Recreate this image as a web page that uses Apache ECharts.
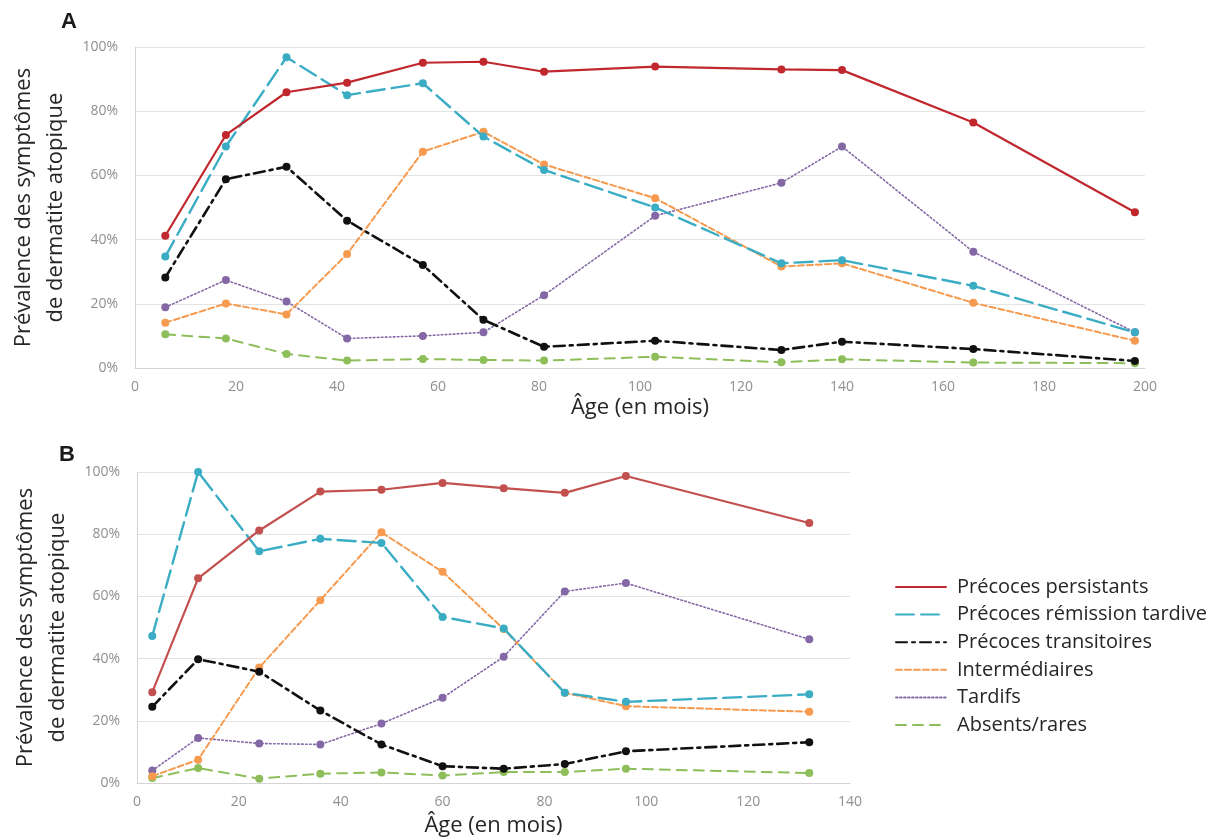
<!DOCTYPE html>
<html>
<head>
<meta charset="utf-8">
<script src="https://cdn.jsdelivr.net/npm/echarts@6/dist/echarts.min.js"></script>
<style>
  html, body { margin: 0; padding: 0; background: #ffffff; }
  #chart { width: 1216px; height: 839px; }
</style>
</head>
<body>
<div id="chart"></div>
<script>
// Trajectory groups (legend order)
const groupNames = ['Précoces persistants', 'Précoces rémission tardive', 'Précoces transitoires', 'Intermédiaires', 'Tardifs', 'Absents/rares'];

// Panel A — ages in months and prevalence (%)
const agesA = [6, 18, 30, 42, 57, 69, 81, 103, 128, 140, 166, 198];
const persistantsA    = [41.2, 72.6, 85.9, 88.9, 95.1, 95.4, 92.3, 93.9, 93.0, 92.8, 76.5, 48.5];
const remissionA      = [34.7, 69.0, 96.8, 85.0, 88.7, 72.1, 61.7, 50.0, 32.6, 33.6, 25.6, 11.1];
const transitoiresA   = [28.2, 58.8, 62.7, 45.9, 32.1, 15.0, 6.6, 8.5, 5.6, 8.2, 5.9, 2.2];
const intermediairesA = [14.1, 20.1, 16.7, 35.5, 67.4, 73.6, 63.4, 52.9, 31.6, 32.6, 20.3, 8.5];
const tardifsA        = [18.9, 27.4, 20.7, 9.2, 10.0, 11.1, 22.7, 47.4, 57.7, 69.0, 36.2, 11.1];
const absentsA        = [10.5, 9.2, 4.4, 2.3, 2.8, 2.5, 2.3, 3.5, 1.8, 2.7, 1.7, 1.5];

// Panel B — ages in months and prevalence (%)
const agesB = [3, 12, 24, 36, 48, 60, 72, 84, 96, 132];
const persistantsB    = [29.2, 65.8, 81.2, 93.7, 94.3, 96.5, 94.8, 93.3, 98.7, 83.6];
const remissionB      = [47.3, 100, 74.5, 78.5, 77.2, 53.4, 49.7, 29.0, 26.1, 28.5];
const transitoiresB   = [24.5, 39.8, 35.8, 23.3, 12.4, 5.4, 4.6, 6.1, 10.2, 13.1];
const intermediairesB = [2.2, 7.5, 37.1, 58.8, 80.6, 67.9, 49.5, 29.0, 24.7, 22.9];
const tardifsB        = [4.0, 14.5, 12.7, 12.4, 19.1, 27.4, 40.6, 61.6, 64.3, 46.2];
const absentsB        = [1.6, 4.8, 1.4, 3.0, 3.4, 2.4, 3.5, 3.5, 4.6, 3.2];

// Axis ranges
const xMaxA = 200;
const xMaxB = 140;
const xStep = 20;
const yMax = 100;
const yStep = 20;

// Line look for each group
const lineLooks = [
  { color: '#C0282E', width: 2.2, type: 'solid' },
  { color: '#3AADC4', width: 2.4, type: [18, 7] },
  { color: '#111111', width: 2.6, type: [11, 5, 3, 5] },
  { color: '#F59A4E', width: 2, type: [6, 3] },
  { color: '#8468A6', width: 1.6, type: [1.6, 2.4] },
  { color: '#8DBE5A', width: 2, type: [10, 7] }
];
const redB = '#C2504E';

const font = '"Open Sans", "Noto Sans", sans-serif';
const tickColor = '#8f8f8f';
const gridColor = '#e3e3e3';

const valuesA = [persistantsA, remissionA, transitoiresA, intermediairesA, tardifsA, absentsA];
const valuesB = [persistantsB, remissionB, transitoiresB, intermediairesB, tardifsB, absentsB];

function makeSeries(ages, values, axisIndex, panel) {
  return values.map((vals, k) => {
    const look = lineLooks[k];
    const color = (panel === 'B' && k === 0) ? redB : look.color;
    return {
      name: groupNames[k],
      type: 'line',
      xAxisIndex: axisIndex,
      yAxisIndex: axisIndex,
      data: ages.map((a, i) => [a, vals[i]]),
      symbol: 'circle',
      symbolSize: 8,
      z: 10 - k,
      lineStyle: { color: color, width: look.width, type: look.type, cap: 'round' },
      itemStyle: { color: color },
      emphasis: { disabled: true },
      animation: false
    };
  });
}

function xAxis(gridIndex, max, gap) {
  return {
    type: 'value', gridIndex: gridIndex, min: 0, max: max, interval: xStep,
    name: 'Âge (en mois)', nameLocation: 'middle', nameGap: gap,
    nameTextStyle: { fontFamily: font, fontSize: 22, color: '#262626', verticalAlign: 'top' },
    axisLine: { show: true, lineStyle: { color: '#d4d4d4', width: 1 } },
    axisTick: { show: false },
    axisLabel: { color: tickColor, fontFamily: font, fontSize: 14, margin: 12 },
    splitLine: { show: false }
  };
}

function yAxis(gridIndex) {
  return {
    type: 'value', gridIndex: gridIndex, min: 0, max: yMax, interval: yStep,
    name: 'Prévalence des symptômes\nde dermatite atopique',
    nameLocation: 'middle', nameRotate: 90, nameGap: 63,
    nameTextStyle: { fontFamily: font, fontSize: 22, color: '#262626', lineHeight: 32, align: 'center' },
    axisLine: { show: true, lineStyle: { color: '#d4d4d4', width: 1 } },
    axisTick: { show: false },
    axisLabel: { color: tickColor, fontFamily: font, fontSize: 14, margin: 17, formatter: '{value}%' },
    splitLine: { show: true, lineStyle: { color: gridColor, width: 1 } }
  };
}

const chart = echarts.init(document.getElementById('chart'), null, { renderer: 'canvas' });

chart.setOption({
  backgroundColor: '#ffffff',
  animation: false,
  title: [
    { text: 'A', left: 56, top: 6, textStyle: { fontFamily: 'Liberation Sans, Arial, sans-serif', fontSize: 22, fontWeight: 'bold', color: '#1a1a1a' } },
    { text: 'B', left: 54, top: 439, textStyle: { fontFamily: 'Liberation Sans, Arial, sans-serif', fontSize: 22, fontWeight: 'bold', color: '#1a1a1a' } }
  ],
  grid: [
    { left: 135, top: 47, width: 1010, height: 321, containLabel: false, outerBoundsMode: 'none' },
    { left: 137, top: 472, width: 713, height: 311, containLabel: false, outerBoundsMode: 'none' }
  ],
  xAxis: [xAxis(0, xMaxA, 29), xAxis(1, xMaxB, 32)],
  yAxis: [yAxis(0), yAxis(1)],
  legend: {
    data: groupNames,
    orient: 'vertical',
    left: 890, top: 572,
    itemWidth: 50, itemHeight: 14, itemGap: 7.6,
    icon: 'inherit',
    itemStyle: { opacity: 0 },
    textStyle: { fontFamily: font, fontSize: 20, color: '#262626', lineHeight: 20, padding: [0, 0, 0, 6] },
    selectedMode: false
  },
  series: [
    ...makeSeries(agesA, valuesA, 0, 'A'),
    ...makeSeries(agesB, valuesB, 1, 'B')
  ]
});
</script>
</body>
</html>
